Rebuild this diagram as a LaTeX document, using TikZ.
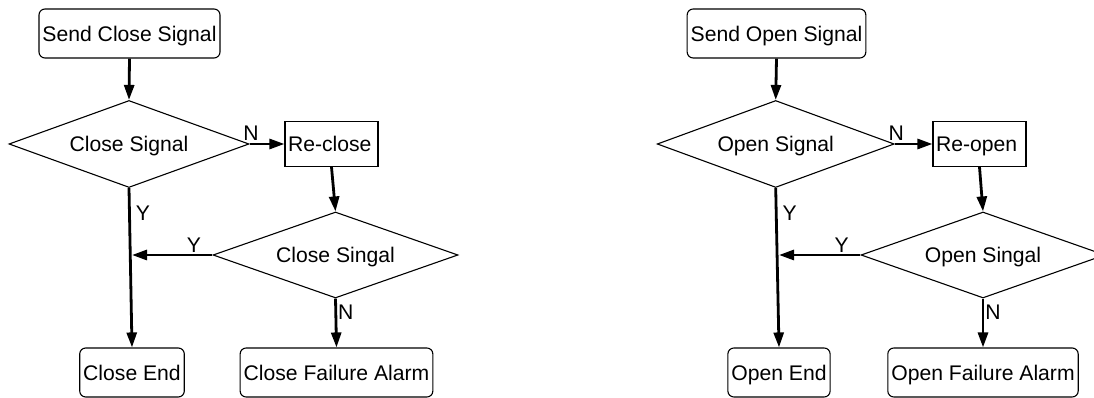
\documentclass[tikz,border=0pt]{standalone}
\usepackage{fontspec}
\setmainfont{Liberation Sans}
\usetikzlibrary{shapes.geometric,arrows.meta,positioning}

\begin{document}
\begin{tikzpicture}[x=1pt, y=1pt, >={Triangle[length=15pt,width=10pt]}, font=\fontsize{21.15}{25}\selectfont]
    \tikzstyle{start} = [rectangle, rounded corners=6pt, minimum height=49pt, inner xsep=3.5pt, text height=15.2pt, text depth=0pt, text centered, draw=black, fill=white, line width=1.1pt]
    \tikzstyle{process} = [rectangle, minimum height=45pt, text width=87pt, inner xsep=3pt, text height=15.2pt, text depth=0pt, align=left, draw=black, fill=white, line width=1.1pt]
    \tikzstyle{decision} = [diamond, aspect=2.8, minimum height=87pt, inner sep=0pt, text height=15.2pt, text depth=0pt, draw=black, fill=white, line width=1.1pt]
    \tikzstyle{flow} = [->, line width=2.8pt]
    \tikzstyle{answer} = [inner sep=2pt]

    \useasboundingbox (0,0) rectangle (1094,398);

    % Close branch
    \node [start] (sendclose) at (129.5,364.5) {Send Close Signal};
    \node [decision, minimum width=240pt, node distance=110.5pt, below of=sendclose, xshift=-0.5pt] (closesig) {Close Signal};
    \node [process, node distance=202.5pt, right of=closesig] (reclose) {Re-close};
    \node [decision, minimum width=245pt, minimum height=86pt, node distance=111pt, below of=reclose, xshift=4pt] (recheck) {Close Singal};
    \node [start, node distance=228.5pt, below of=closesig, xshift=3pt] (closeend) {Close End};
    \node [start, node distance=117.5pt, below of=recheck, xshift=1pt] (closealarm) {Close Failure Alarm};

    % Open branch
    \node [start] (sendopen) at (776.5,364.5) {Send Open Signal};
    \node [decision, minimum width=237pt, node distance=110.5pt, below of=sendopen, xshift=-0.8pt] (opensig) {Open Signal};
    \node [process, node distance=203.8pt, right of=opensig] (reopen) {Re-open};
    \node [decision, minimum width=244pt, minimum height=86pt, node distance=111pt, below of=reopen, xshift=3.5pt] (recheckopen) {Open Singal};
    \node [start, node distance=228.5pt, below of=opensig, xshift=3.3pt] (openend) {Open End};
    \node [start, node distance=117.5pt, below of=recheckopen] (openalarm) {Open Failure Alarm};

    % Connections
    \draw [flow] (sendclose.south) -- (closesig.north);
    \draw [flow] (closesig.east) -- node [answer, at start, above, xshift=1.5pt] (closen1) {N} (reclose.west);
    \draw [flow] (reclose.south) -- (recheck.north);
    \draw [flow] (closesig.south) -- node [answer, pos=0.16, right, xshift=3pt] (closey1) {Y} (closeend.north);
    \draw [flow] (recheck.west) -- node [answer, pos=0.23, above, inner sep=1.5pt] (closey2) {Y} (recheck.west -| closeend.north);
    \draw [flow] (recheck.south) -- node [answer, pos=0.28, right, xshift=-1pt] (closen2) {N} (closealarm.north);

    \draw [flow] (sendopen.south) -- (opensig.north);
    \draw [flow] (opensig.east) -- node [answer, at start, above, xshift=1.5pt] (openn1) {N} (reopen.west);
    \draw [flow] (reopen.south) -- (recheckopen.north);
    \draw [flow] (opensig.south) -- node [answer, pos=0.16, right, xshift=3pt] (openy1) {Y} (openend.north);
    \draw [flow] (recheckopen.west) -- node [answer, pos=0.23, above, inner sep=1.5pt] (openy2) {Y} (recheckopen.west -| openend.north);
    \draw [flow] (recheckopen.south) -- node [answer, pos=0.28, right, xshift=-1pt] (openn2) {N} (openalarm.north);
\end{tikzpicture}
\end{document}
